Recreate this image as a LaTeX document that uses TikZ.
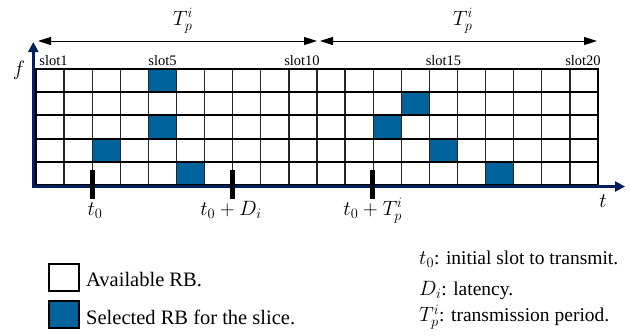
\documentclass[tikz,border=0pt]{standalone}
\usepackage{fontspec}
\setmainfont{Liberation Serif}
\usetikzlibrary{arrows.meta}
\definecolor{axisnavy}{RGB}{0,32,96}
\definecolor{rbblue}{RGB}{0,99,155}

\begin{document}
\begin{tikzpicture}[x=1pt,y=-1pt,
  cell/.style={draw=black!85, line width=1.3pt, minimum width=28.1pt,
    minimum height=23.2pt, inner sep=0pt, outer sep=0pt, fill=white},
  % selected resource blocks
  sel-5-1/.style={fill=rbblue}, sel-5-3/.style={fill=rbblue},
  sel-3-4/.style={fill=rbblue}, sel-6-5/.style={fill=rbblue},
  sel-14-2/.style={fill=rbblue}, sel-13-3/.style={fill=rbblue},
  sel-15-4/.style={fill=rbblue}, sel-17-5/.style={fill=rbblue},
  rowline/.style={line width=2pt, black},
  border/.style={line width=2.5pt, black},
  axis/.style={axisnavy, line width=3pt, -{Triangle[width=10pt,length=10pt]}},
  period/.style={line width=0.9pt, {Triangle[width=8pt,length=13pt]}-{Triangle[width=8pt,length=13pt]}},
  slotlabel/.style={font=\fontsize{14.5}{16}\selectfont, anchor=base, inner sep=0pt},
  mathlabel/.style={font=\fontsize{20}{23}\selectfont, inner sep=0pt},
  tickmark/.style={fill=black, minimum width=5.5pt, minimum height=29pt, inner sep=0pt},
  legendbox/.style={draw=black, line width=2pt, minimum width=30pt, minimum height=27pt, inner sep=0pt},
  legendtext/.style={font=\fontsize{19.5}{22}\selectfont, anchor=base west, inner sep=0pt},
  boxtext/.style={legendtext, font=\fontsize{20.5}{23}\selectfont},
]
\useasboundingbox (0,0) rectangle (631,335);

% time-frequency grid of resource blocks
\foreach \c in {1,...,20}
  \foreach \r in {1,...,5}
    \node[cell, sel-\c-\r/.try] (c-\c-\r) at ({36+(\c-0.5)*28.1},{69+(\r-0.5)*23.2}) {};
\foreach \r in {1,...,4}
  \draw[rowline] (c-1-\r.south west) -- (c-20-\r.south east);
\draw[border] (c-1-1.north west) rectangle (c-20-5.south east);

% axes
\coordinate (origin) at (33.3,188);
\coordinate (fend) at (33.3,42);
\coordinate (tstart) at (32,186.5);
\coordinate (tend) at (625,186.5);
\draw[axis] (origin) -- (fend);
\draw[axis, line width=3.5pt] (tstart) -- (tend);
\node[mathlabel] (flab) at (19,70) {$f$};
\node[mathlabel] (tlab) at (603,201) {$t$};

% slot labels
\node[slotlabel] (s1) at (53.5,65) {slot1};
\node[slotlabel] (s5) at (162.5,65) {slot5};
\node[slotlabel] (s10) at (302,65) {slot10};
\node[slotlabel] (s15) at (443.5,65) {slot15};
\node[slotlabel] (s20) at (583,65) {slot20};

% transmission periods
\coordinate (p1a) at (38,41);
\coordinate (p1b) at (317,41);
\coordinate (p2a) at (320,41);
\coordinate (p2b) at (597,41);
\draw[period] (p1a) -- (p1b);
\draw[period] (p2a) -- (p2b);
\node[mathlabel] (tp1) at (183,21) {$T_p^i$};
\node[mathlabel] (tp2) at (463,21) {$T_p^i$};

% time marks
\node[tickmark] (k0) at (92.7,184.5) {};
\node[tickmark] (kd) at (232.3,184.5) {};
\node[tickmark] (kt) at (372.7,184.5) {};
\node[mathlabel, anchor=base] (l0) at (95,215) {$t_0$};
\node[mathlabel, anchor=base] (ld) at (231,215) {$t_0+D_i$};
\node[mathlabel, anchor=base] (lt) at (373,215) {$t_0+T_p^i$};

% legend
\node[legendbox] (lb1) at (63.5,277) {};
\node[legendbox, fill=rbblue] (lb2) at (63.5,314.5) {};
\node[boxtext] (lt1) at (86,286.7) {Available RB.};
\node[boxtext] (lt2) at (86,324) {Selected RB for the slice.};
\node[legendtext] (d1) at (419,264) {$t_0$: initial slot to transmit.};
\node[legendtext] (d2) at (419,295.5) {$D_i$: latency.};
\node[legendtext] (d3) at (419,321.7) {$T_p^i$: transmission period.};
\end{tikzpicture}
\end{document}
